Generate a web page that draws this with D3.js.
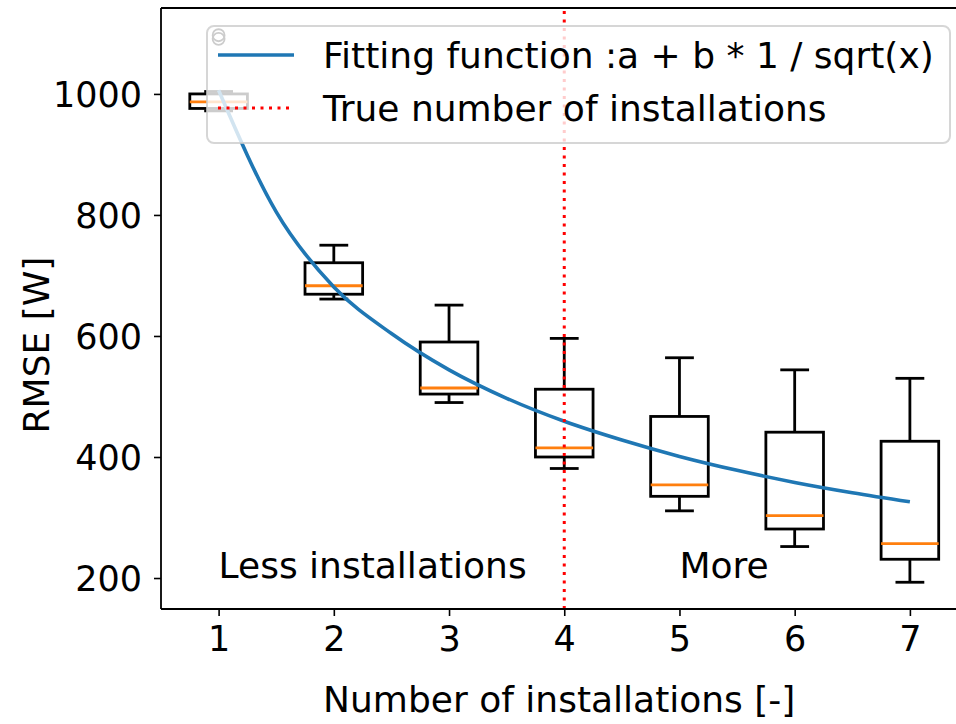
<!DOCTYPE html>
<html>
<head>
<meta charset="utf-8">
<script src="https://cdn.jsdelivr.net/npm/d3@7"></script>
<style>
  html, body { margin: 0; padding: 0; background: #fff; }
  svg { display: block; font-family: "DejaVu Sans", sans-serif; }
</style>
</head>
<body>
<svg id="chart" width="956" height="724"></svg>
<script>
// Number of installations on the x axis
const categories = [1, 2, 3, 4, 5, 6, 7];
// Box statistics of the RMSE [W] per number of installations
const whiskerLow  = [972, 661, 490, 381, 311, 252, 193];
const quart1      = [976, 669, 504, 400, 335, 281, 231];
const medians     = [987, 683, 514, 415, 354, 303, 257];
const quart3      = [1000, 721, 590, 512, 467, 441, 426];
const whiskerHigh = [1004, 750, 651, 596, 564, 544, 530];
const fliers      = [[1091, 1097], [], [], [], [], [], []];
// Fitted curve a + b / sqrt(x), sampled along x
const fitX = [1, 1.5, 2, 2.5, 3, 3.5, 4, 4.5, 5, 5.5, 6, 6.5, 7];
const fitY = [1006, 805, 681, 604, 544, 497, 459, 428, 401, 378, 358, 341, 326];
// Reference line and annotations
const trueInstallations = 4;
const yTicks = [200, 400, 600, 800, 1000];
const xTicks = [1, 2, 3, 4, 5, 6, 7];

const svg = d3.select("#chart");
const FS = 35;

const x = d3.scaleLinear().domain([0.5, 7.5]).range([161, 967.5]);
const y = d3.scaleLinear().domain([148.8, 1142]).range([609, 8]);

const plot = svg.append("g");

// Boxes
const boxW = x(1.25) - x(0.75);
const capW = x(1.125) - x(0.875);
categories.forEach((c, i) => {
  const g = plot.append("g");
  const cx = x(c);
  g.append("line").attr("x1", cx).attr("x2", cx)
    .attr("y1", y(quart3[i])).attr("y2", y(whiskerHigh[i]))
    .attr("stroke", "#000").attr("stroke-width", 2.8);
  g.append("line").attr("x1", cx).attr("x2", cx)
    .attr("y1", y(quart1[i])).attr("y2", y(whiskerLow[i]))
    .attr("stroke", "#000").attr("stroke-width", 2.8);
  [whiskerHigh[i], whiskerLow[i]].forEach(v => {
    g.append("line").attr("x1", cx - capW / 2).attr("x2", cx + capW / 2)
      .attr("y1", y(v)).attr("y2", y(v))
      .attr("stroke", "#000").attr("stroke-width", 2.8);
  });
  g.append("rect").attr("x", cx - boxW / 2).attr("width", boxW)
    .attr("y", y(quart3[i])).attr("height", y(quart1[i]) - y(quart3[i]))
    .attr("fill", "none").attr("stroke", "#000").attr("stroke-width", 2.8);
  g.append("line").attr("x1", cx - boxW / 2).attr("x2", cx + boxW / 2)
    .attr("y1", y(medians[i])).attr("y2", y(medians[i]))
    .attr("stroke", "#ff7f0e").attr("stroke-width", 2.8);
  fliers[i].forEach(v => {
    g.append("circle").attr("cx", cx).attr("cy", y(v)).attr("r", 6)
      .attr("fill", "none").attr("stroke", "#000").attr("stroke-width", 1.8);
  });
});

// Fitted curve
const fitLine = d3.line().x(d => x(d[0])).y(d => y(d[1])).curve(d3.curveMonotoneX);
plot.append("path").datum(fitX.map((v, i) => [v, fitY[i]]))
  .attr("d", fitLine).attr("fill", "none")
  .attr("stroke", "#1f77b4").attr("stroke-width", 3.6);

// True number of installations
plot.append("line").attr("x1", x(trueInstallations)).attr("x2", x(trueInstallations))
  .attr("y1", y.range()[0]).attr("y2", y.range()[1])
  .attr("stroke", "#ff0000").attr("stroke-width", 3).attr("stroke-dasharray", "3,5.5");

// Annotations
svg.append("text").attr("x", x(1)).attr("y", y(200)).attr("font-size", 36)
  .attr("fill", "#000").text("Less installations");
svg.append("text").attr("x", x(5)).attr("y", y(200)).attr("font-size", 36)
  .attr("fill", "#000").text("More");

// Axes
const xAxis = d3.axisBottom(x).tickValues(xTicks).tickSize(7).tickPadding(8).tickFormat(d3.format("d"));
const yAxis = d3.axisLeft(y).tickValues(yTicks).tickSize(7).tickPadding(12).tickFormat(d3.format("d"));
const gx = svg.append("g").attr("transform", `translate(0,${y.range()[0]})`).call(xAxis);
const gy = svg.append("g").attr("transform", `translate(${x.range()[0]},0)`).call(yAxis);
[gx, gy].forEach(g => {
  g.select(".domain").remove();
  g.selectAll(".tick line").attr("stroke", "#000").attr("stroke-width", 1.6);
  g.selectAll(".tick text").attr("font-size", FS).attr("fill", "#000")
    .attr("font-family", "DejaVu Sans, sans-serif");
});
gy.selectAll(".tick text").attr("dy", "0.36em");
gx.selectAll(".tick text").attr("dy", "0.76em");

// Spines
const spine = svg.append("g").attr("stroke", "#000").attr("stroke-width", 1.8).attr("fill", "none");
spine.append("line").attr("x1", x.range()[0]).attr("x2", x.range()[1]).attr("y1", y.range()[0]).attr("y2", y.range()[0]);
spine.append("line").attr("x1", x.range()[0]).attr("x2", x.range()[1]).attr("y1", y.range()[1]).attr("y2", y.range()[1]);
spine.append("line").attr("x1", x.range()[0]).attr("x2", x.range()[0]).attr("y1", y.range()[0]).attr("y2", y.range()[1]);
spine.append("line").attr("x1", x.range()[1]).attr("x2", x.range()[1]).attr("y1", y.range()[0]).attr("y2", y.range()[1]);

// Axis titles
svg.append("text").attr("x", (x.range()[0] + x.range()[1]) / 2 - 5).attr("y", 712)
  .attr("text-anchor", "middle").attr("font-size", 36).attr("fill", "#000")
  .text("Number of installations [-]");
svg.append("text").attr("transform", "translate(49,345) rotate(-90)")
  .attr("text-anchor", "middle").attr("font-size", 36).attr("fill", "#000")
  .text("RMSE [W]");

// Legend
const leg = svg.append("g");
leg.append("rect").attr("x", 207).attr("y", 26).attr("width", 743).attr("height", 117)
  .attr("rx", 7).attr("fill", "#fff").attr("fill-opacity", 0.8)
  .attr("stroke", "#cccccc").attr("stroke-opacity", 0.8).attr("stroke-width", 2);
leg.append("line").attr("x1", 218).attr("x2", 294).attr("y1", 55).attr("y2", 55)
  .attr("stroke", "#1f77b4").attr("stroke-width", 3.6);
leg.append("line").attr("x1", 218).attr("x2", 294).attr("y1", 108).attr("y2", 108)
  .attr("stroke", "#ff0000").attr("stroke-width", 3).attr("stroke-dasharray", "3,5.5");
leg.append("text").attr("x", 323).attr("y", 68).attr("font-size", 36).attr("fill", "#000")
  .text("Fitting function :a + b * 1 / sqrt(x)");
leg.append("text").attr("x", 323).attr("y", 121).attr("font-size", 36).attr("fill", "#000")
  .text("True number of installations");
</script>
</body>
</html>
